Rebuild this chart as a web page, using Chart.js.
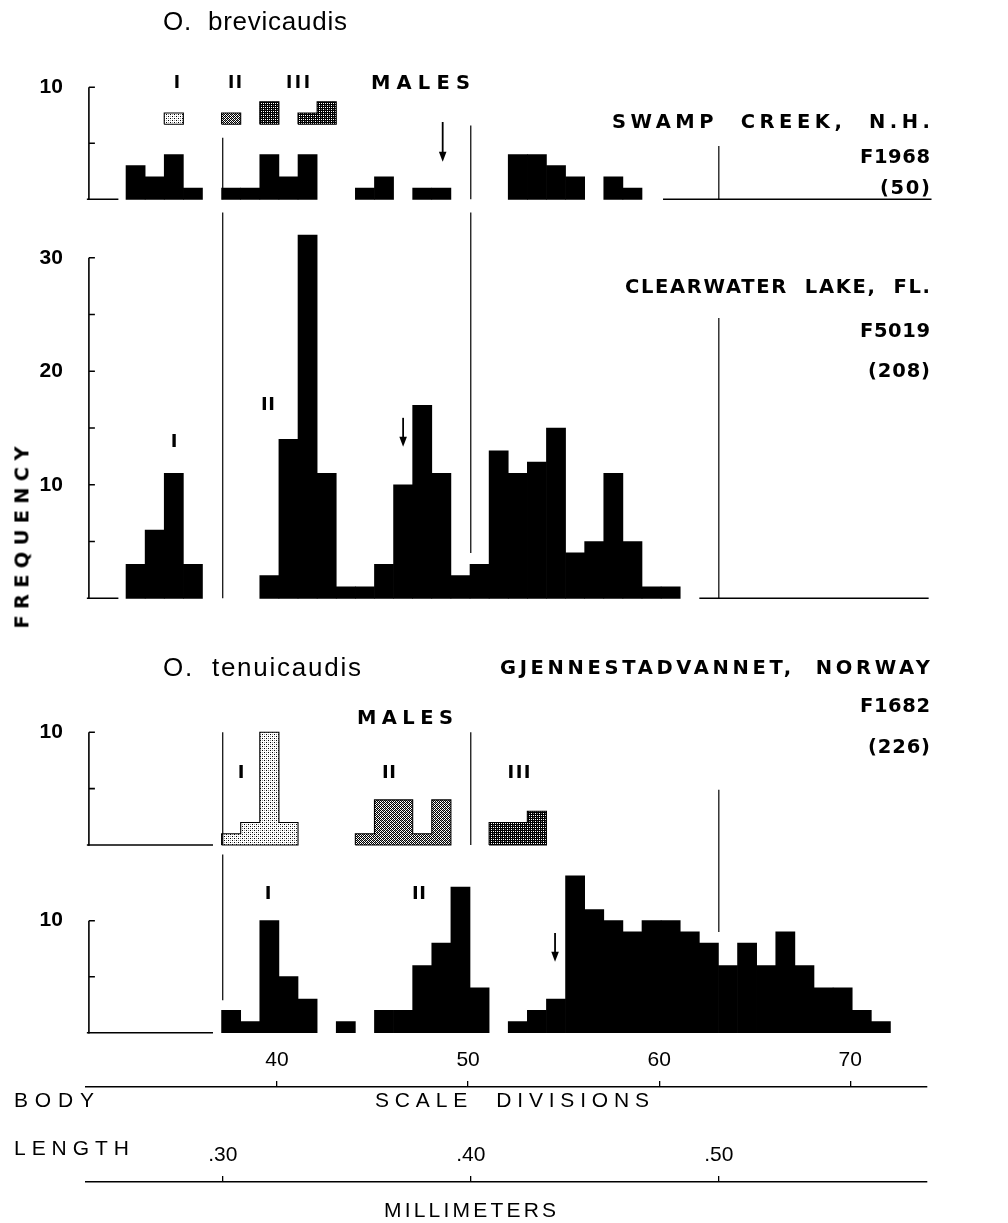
<!DOCTYPE html>
<html><head><meta charset="utf-8">
<script src="https://cdn.jsdelivr.net/npm/chart.js@4.4.0/dist/chart.umd.min.js"></script>
<style>
html,body{margin:0;padding:0;background:#fff;}
#root{position:relative;width:1008px;height:1223px;overflow:hidden;background:#fff;}
#root canvas{position:absolute;left:0;}
.t{position:absolute;white-space:pre;color:#000;font-family:"Liberation Sans",Arial,sans-serif;line-height:1;}
</style></head><body><div id="root"></div>
<script>
// ================= DATA =================
// Scale-division bins (bin start value); counts = frequency per bin
// O. brevicaudis, Swamp Creek N.H. (F1968, n=50)
const swampBins   = [32,33,34,35,36,37,38,39,40,41,42,43,44,45,46,47,48,49,50,51,52,53,54,55,56,57,58];
const swampCounts = [ 3, 2, 4, 1, 0, 1, 1, 4, 2, 4, 0, 0, 1, 2, 0, 1, 1, 0, 0, 0, 4, 4, 3, 2, 0, 2, 1];
// Swamp Creek males (floating mini-histograms), instars I, II, III
const swampMaleIBins = [34],        swampMaleICounts = [1];
const swampMaleIIBins = [37],       swampMaleIICounts = [1];
const swampMaleIIIBins = [39,41,42], swampMaleIIICounts = [2,1,2];

// O. brevicaudis, Clearwater Lake FL. (F5019, n=208)
const clearBins   = [32,33,34,35,36,37,38,39,40,41,42,43,44,45,46,47,48,49,50,51,52,53,54,55,56,57,58,59,60];
const clearCounts = [ 3, 6,11, 3, 0, 0, 0, 2,14,32,11, 1, 1, 3,10,17,11, 2, 3,13,11,12,15, 4, 5,11, 5, 1, 1];

// O. tenuicaudis males, Gjennestadvannet (F1682)
const tenuMaleIBins = [37,38,39,40],        tenuMaleICounts = [1,2,10,2];
const tenuMaleIIBins = [44,45,46,47,48],    tenuMaleIICounts = [1,4,4,1,4];
const tenuMaleIIIBins = [51,52,53],         tenuMaleIIICounts = [2,2,3];

// O. tenuicaudis, Gjennestadvannet, Norway (F1682, n=226)
const tenuBins   = [37,38,39,40,41,42,43,44,45,46,47,48,49,50,51,52,53,54,55,56,57,58,59,60,61,62,63,64,65,66,67,68,69,70,71];
const tenuCounts = [ 2, 1,10, 5, 3, 0, 1, 0, 2, 2, 6, 8,13, 4, 0, 1, 2, 3,14,11,10, 9,10,10, 9, 8, 6, 8, 6, 9, 6, 4, 4, 2, 1];

// Axis ticks
const scaleTicks = [40, 50, 60, 70];          // scale divisions
const mmTicks    = [0.30, 0.40, 0.50];        // body length, millimeters
const swampYLabels = [10], clearYLabels = [10, 20, 30], tenuMaleYLabels = [10], tenuYLabels = [10];

// Arrows (x in scale divisions, from/to in frequency units)
const swampArrow = {x: 48.67, from: 6.9, to: 3.36};
const clearArrow = {x: 46.6, from: 15.9, to: 13.36};
const tenuArrow  = {x: 54.55, from: 8.9, to: 6.34};

// Reference lines at body length (mm), extents in frequency units
const swampVLines = [{mm:0.30, from:0, to:5.5}, {mm:0.40, from:0, to:6.6}, {mm:0.50, from:0, to:4.75}];
const clearVLines = [{mm:0.30, from:0, to:34}, {mm:0.40, from:4, to:34}, {mm:0.50, from:0, to:24.7}];
const tenuMaleVLines = [{mm:0.30, from:0, to:10}, {mm:0.40, from:0, to:10}];
const tenuVLines = [{mm:0.30, from:2.9, to:15.9}, {mm:0.50, from:9, to:21.7}];

// Empty-axis baseline stretches (scale divisions)
const swampBase = [[30.05, 31.7], [60.2, 74.25]];
const clearBase = [[30.05, 31.7], [62.1, 74.1]];
const tenuMaleBase = [[30.05, 36.65]];
const tenuBase = [[30.05, 36.65]];

// ================= LAYOUT / STYLE =================
const W = 1008;
const XMIN = 30, XMAX = 74.3, XAXIS_MAX = 74;
const X_REF_PX = 277, X_REF_VAL = 40, X_PPU = 19.11;
const px = v => X_REF_PX + (v - X_REF_VAL) * X_PPU;
const MM_REF = 0.30, DIV_AT_MM_REF = 37.16, DIV_PER_MM = 129.8;
const mmToDiv = mm => DIV_AT_MM_REF + (mm - MM_REF) * DIV_PER_MM;
const divToMm = d => MM_REF + (d - DIV_AT_MM_REF) / DIV_PER_MM;
const BIN_CENTER = 0.6;
const PAD = 32;
const MALE_BASE = 6.7;
const FONT = "'Liberation Sans', Arial, sans-serif";
const WIDE = "'DejaVu Sans', 'Liberation Sans', sans-serif";
Chart.defaults.font.family = FONT;
Chart.defaults.color = '#000';

const root = document.getElementById('root');

function makePattern(kind) {
  const c = document.createElement('canvas'); c.width = 4; c.height = 4;
  const g = c.getContext('2d');
  g.fillStyle = '#fff'; g.fillRect(0, 0, 4, 4);
  const cells = {
    light:  [['#000',0,0],['#000',2,2],['#999',2,0],['#999',0,2]],
    medium: [['#000',0,0],['#000',1,1],['#000',2,2],['#000',3,3],['#000',2,0],['#000',0,2],['#000',1,3],['#000',3,1],['#888',1,0],['#888',3,2]],
    dark:   [['#000',0,0],['#000',1,0],['#000',2,0],['#000',3,0],['#000',0,1],['#000',2,1],['#000',0,2],['#000',1,2],['#000',2,2],['#000',3,2],['#000',0,3],['#000',2,3],['#777',1,1]]
  }[kind];
  cells.forEach(([col, x, y]) => { g.fillStyle = col; g.fillRect(x, y, 1, 1); });
  return g.createPattern(c, 'repeat');
}
const PAT = {light: makePattern('light'), medium: makePattern('medium'), dark: makePattern('dark')};

function runs(bins, counts) {
  const out = []; let cur = null;
  bins.forEach((b, i) => {
    if (!cur || b !== cur.bins[cur.bins.length - 1] + 1) { cur = {bins: [], counts: []}; out.push(cur); }
    cur.bins.push(b); cur.counts.push(counts[i]);
  });
  return out;
}
function stepOutline(bins, counts, base) {
  const L = b => b + BIN_CENTER - 0.5;
  const pts = [{x: L(bins[0]), y: base}];
  bins.forEach((b, i) => pts.push({x: L(b), y: base + counts[i]}));
  const R = L(bins[bins.length - 1]) + 1;
  pts.push({x: R, y: base + counts[counts.length - 1]});
  pts.push({x: R, y: base});
  pts.push({x: L(bins[0]), y: base});
  return pts;
}

const bracketPlugin = {
  id: 'bracket',
  afterDatasetsDraw(chart, args, opts) {
    if (!opts || !opts.top) return;
    const ys = chart.scales.y, ctx = chart.ctx;
    const x = chart.chartArea.left + 3;
    ctx.save(); ctx.strokeStyle = '#000'; ctx.lineWidth = 1.6;
    ctx.beginPath();
    ctx.moveTo(x, ys.getPixelForValue(0) + 0.8); ctx.lineTo(x, ys.getPixelForValue(opts.top));
    for (let v = opts.step; v <= opts.top + 1e-9; v += opts.step) {
      const p = ys.getPixelForValue(v); ctx.moveTo(x, p); ctx.lineTo(x + 6, p);
    }
    ctx.stroke(); ctx.restore();
  }
};
function arrowPlugin(list) {
  return {
    id: 'arrows',
    afterDatasetsDraw(chart) {
      const xs = chart.scales.x, ys = chart.scales.y, ctx = chart.ctx;
      ctx.save(); ctx.strokeStyle = '#000'; ctx.fillStyle = '#000'; ctx.lineWidth = 1.8;
      list.forEach(a => {
        const x = xs.getPixelForValue(a.x), y0 = ys.getPixelForValue(a.from), y1 = ys.getPixelForValue(a.to);
        ctx.beginPath(); ctx.moveTo(x, y0); ctx.lineTo(x, y1 - 8); ctx.stroke();
        ctx.beginPath(); ctx.moveTo(x - 3.8, y1 - 10); ctx.lineTo(x + 3.8, y1 - 10); ctx.lineTo(x, y1); ctx.closePath(); ctx.fill();
      });
      ctx.restore();
    }
  };
}

function makeCanvas(top, height) {
  const c = document.createElement('canvas');
  c.width = W; c.height = height;
  c.style.top = top + 'px'; c.style.width = W + 'px'; c.style.height = height + 'px';
  root.appendChild(c);
  return c;
}

// p.areaTop / p.areaBottom: page y of the chart area; canvas extends PAD beyond both
function panelChart(p) {
  const top = p.areaTop - PAD, height = p.areaBottom - p.areaTop + 2 * PAD;
  const ymax = (p.zeroY - p.areaTop) / p.ppu;
  const ymin = -(p.areaBottom - p.zeroY) / p.ppu;
  const datasets = [];
  if (p.bins) {
    datasets.push({
      type: 'bar',
      data: p.bins.map((b, i) => ({x: b + BIN_CENTER, y: p.counts[i]})).filter(d => d.y > 0),
      backgroundColor: '#000', borderWidth: 0, barPercentage: 1, categoryPercentage: 1, grouped: false, order: 3
    });
  }
  (p.groups || []).forEach(g => runs(g.bins, g.counts).forEach(r => datasets.push({
    type: 'line', data: stepOutline(r.bins, r.counts, g.base || 0), stepped: 'before',
    fill: 'shape', backgroundColor: g.pattern, borderColor: '#000', borderWidth: 1.1,
    pointRadius: 0, order: 2, clip: false
  })));
  p.vlines.forEach(v => datasets.push({
    type: 'line', data: [{x: mmToDiv(v.mm), y: v.from}, {x: mmToDiv(v.mm), y: v.to}],
    borderColor: '#000', borderWidth: 1.2, pointRadius: 0, fill: false, clip: false, order: 1
  }));
  p.baselines.forEach(b => datasets.push({
    type: 'line', data: [{x: b[0], y: 0}, {x: b[1], y: 0}],
    borderColor: '#000', borderWidth: 1.6, pointRadius: 0, fill: false, clip: false, order: 1
  }));
  const canvas = makeCanvas(top, height);
  return new Chart(canvas, {
    type: 'bar',
    data: {datasets},
    plugins: [bracketPlugin, arrowPlugin(p.arrows || [])],
    options: {
      responsive: false, animation: false, devicePixelRatio: 1, events: [],
      layout: {padding: {top: PAD, bottom: PAD, left: 0, right: W - px(XMAX)}},
      plugins: {legend: {display: false}, tooltip: {enabled: false}, bracket: {top: p.bracketTop, step: 5}},
      scales: {
        x: {type: 'linear', min: XMIN, max: XMAX, offset: false, display: false, ticks: {stepSize: 10}},
        y: {
          type: 'linear', min: ymin, max: ymax, position: 'left',
          grid: {display: false}, border: {display: false},
          afterBuildTicks: s => { s.ticks = p.yLabels.map(v => ({value: v})); },
          afterFit: s => { s.width = px(XMIN); },
          ticks: {font: {size: 21, weight: 'bold'}, color: '#000', padding: 15, autoSkip: false, callback: v => String(v)}
        }
      }
    }
  });
}

// Panels
panelChart({areaTop: 60, areaBottom: 215, zeroY: 199.3, ppu: 11.2, bins: swampBins, counts: swampCounts,
  groups: [
    {bins: swampMaleIBins, counts: swampMaleICounts, base: MALE_BASE, pattern: PAT.light},
    {bins: swampMaleIIBins, counts: swampMaleIICounts, base: MALE_BASE, pattern: PAT.medium},
    {bins: swampMaleIIIBins, counts: swampMaleIIICounts, base: MALE_BASE, pattern: PAT.dark}
  ],
  vlines: swampVLines, baselines: swampBase, yLabels: swampYLabels, bracketTop: 10, arrows: [swampArrow]});
panelChart({areaTop: 205, areaBottom: 615, zeroY: 598.3, ppu: 11.35, bins: clearBins, counts: clearCounts,
  vlines: clearVLines, baselines: clearBase, yLabels: clearYLabels, bracketTop: 30, arrows: [clearArrow]});
panelChart({areaTop: 700, areaBottom: 862, zeroY: 845, ppu: 11.27,
  groups: [
    {bins: tenuMaleIBins, counts: tenuMaleICounts, base: 0, pattern: PAT.light},
    {bins: tenuMaleIIBins, counts: tenuMaleIICounts, base: 0, pattern: PAT.medium},
    {bins: tenuMaleIIIBins, counts: tenuMaleIIICounts, base: 0, pattern: PAT.dark}
  ],
  vlines: tenuMaleVLines, baselines: tenuMaleBase, yLabels: tenuMaleYLabels, bracketTop: 10});
panelChart({areaTop: 780, areaBottom: 1045, zeroY: 1032.7, ppu: 11.2, bins: tenuBins, counts: tenuCounts,
  vlines: tenuVLines, baselines: tenuBase, yLabels: tenuYLabels, bracketTop: 10, arrows: [tenuArrow]});

// Bottom axes
function axisChart(lineY, min, max, ticks, fmt) {
  const AX_H = 40;
  const canvas = makeCanvas(lineY - AX_H, 60);
  return new Chart(canvas, {
    type: 'line', data: {datasets: []},
    options: {
      responsive: false, animation: false, devicePixelRatio: 1, events: [],
      layout: {padding: {top: 0, bottom: 0, left: px(XMIN), right: W - px(XAXIS_MAX)}},
      plugins: {legend: {display: false}, tooltip: {enabled: false}},
      scales: {
        x: {type: 'linear', position: 'top', min, max, offset: false,
          grid: {display: true, drawOnChartArea: false, drawTicks: true, tickLength: 6, color: '#000', lineWidth: 1.3},
          border: {display: true, color: '#000', width: 1.5},
          afterBuildTicks: s => { s.ticks = ticks.map(v => ({value: v})); },
          afterFit: s => { s.height = AX_H; },
          ticks: {font: {size: 21}, color: '#000', padding: 8, maxRotation: 0, autoSkip: false, callback: fmt}
        },
        y: {display: false}
      }
    }
  });
}
axisChart(1087, XMIN, XAXIS_MAX, scaleTicks, v => String(v));
axisChart(1182, divToMm(XMIN), divToMm(XAXIS_MAX), mmTicks, v => '.' + Math.round(v * 100));

// ================= TEXT =================
function addText(str, o) {
  const el = document.createElement('div');
  el.className = 't';
  el.textContent = str;
  el.style.fontSize = o.fs + 'px';
  el.style.fontWeight = o.bold ? '700' : '400';
  if (o.family) el.style.fontFamily = o.family;
  root.appendChild(el);
  const w = el.getBoundingClientRect().width;
  const n = [...str].length;
  let ls = o.ls || 0;
  if (o.w && n > 1) ls = (o.w - w) / (n - 1);
  el.style.letterSpacing = ls + 'px';
  const vis = w + ls * (n - 1);
  let left = o.x;
  if (o.align === 'right') left = o.x - vis; else if (o.align === 'center') left = o.x - vis / 2;
  el.style.left = left + 'px';
  el.style.top = (o.y - o.fs * (o.family === WIDE ? 0.47 : 0.49)) + 'px';
  if (o.rotate) {
    el.style.transformOrigin = (vis / 2) + 'px ' + (o.fs * 0.49) + 'px';
    el.style.transform = 'rotate(' + o.rotate + 'deg)';
  }
}
const cap = (s, o) => addText(s, Object.assign({fs: 19.5, bold: true, family: WIDE}, o));
addText('O.  brevicaudis', {x: 163, y: 21, fs: 26, w: 184});
cap('I',   {x: 177, y: 82, fs: 17, align: 'center'});
cap('II',  {x: 235, y: 82, fs: 17, align: 'center', w: 14});
cap('III', {x: 298, y: 82, fs: 17, align: 'center', w: 24});
cap('MALES', {x: 371, y: 82, w: 99});
cap('SWAMP  CREEK,  N.H.', {x: 930, y: 121, align: 'right', w: 318});
cap('F1968', {x: 930, y: 156, align: 'right', w: 70});
cap('(50)', {x: 930, y: 187, align: 'right', w: 50});
cap('CLEARWATER  LAKE,  FL.', {x: 930, y: 286, align: 'right', w: 305});
cap('F5019', {x: 930, y: 330, align: 'right', w: 70});
cap('(208)', {x: 930, y: 370, align: 'right', w: 62});
cap('II', {x: 268, y: 403, fs: 18, align: 'center', w: 14});
cap('I',  {x: 174, y: 440, fs: 18, align: 'center'});
cap('FREQUENCY', {x: 22, y: 537, align: 'center', w: 182, rotate: -90});
addText('O.  tenuicaudis', {x: 163, y: 667, fs: 26, w: 198});
cap('GJENNESTADVANNET,  NORWAY', {x: 930, y: 667, align: 'right', w: 430});
cap('F1682', {x: 930, y: 705, align: 'right', w: 70});
cap('(226)', {x: 930, y: 746, align: 'right', w: 62});
cap('MALES', {x: 357, y: 717, w: 96});
cap('I',   {x: 241, y: 771, fs: 18, align: 'center'});
cap('II',  {x: 389, y: 771, fs: 18, align: 'center', w: 14});
cap('III', {x: 519, y: 771, fs: 18, align: 'center', w: 23});
cap('I',  {x: 268, y: 892, fs: 18, align: 'center'});
cap('II', {x: 419, y: 892, fs: 18, align: 'center', w: 14});
addText('BODY', {x: 14, y: 1099, fs: 21, w: 80});
addText('SCALE  DIVISIONS', {x: 375, y: 1099, fs: 21, w: 274});
addText('LENGTH', {x: 14, y: 1147, fs: 21, w: 115});
addText('MILLIMETERS', {x: 470, y: 1209, fs: 21, align: 'center', w: 172});
</script>
</body></html>
